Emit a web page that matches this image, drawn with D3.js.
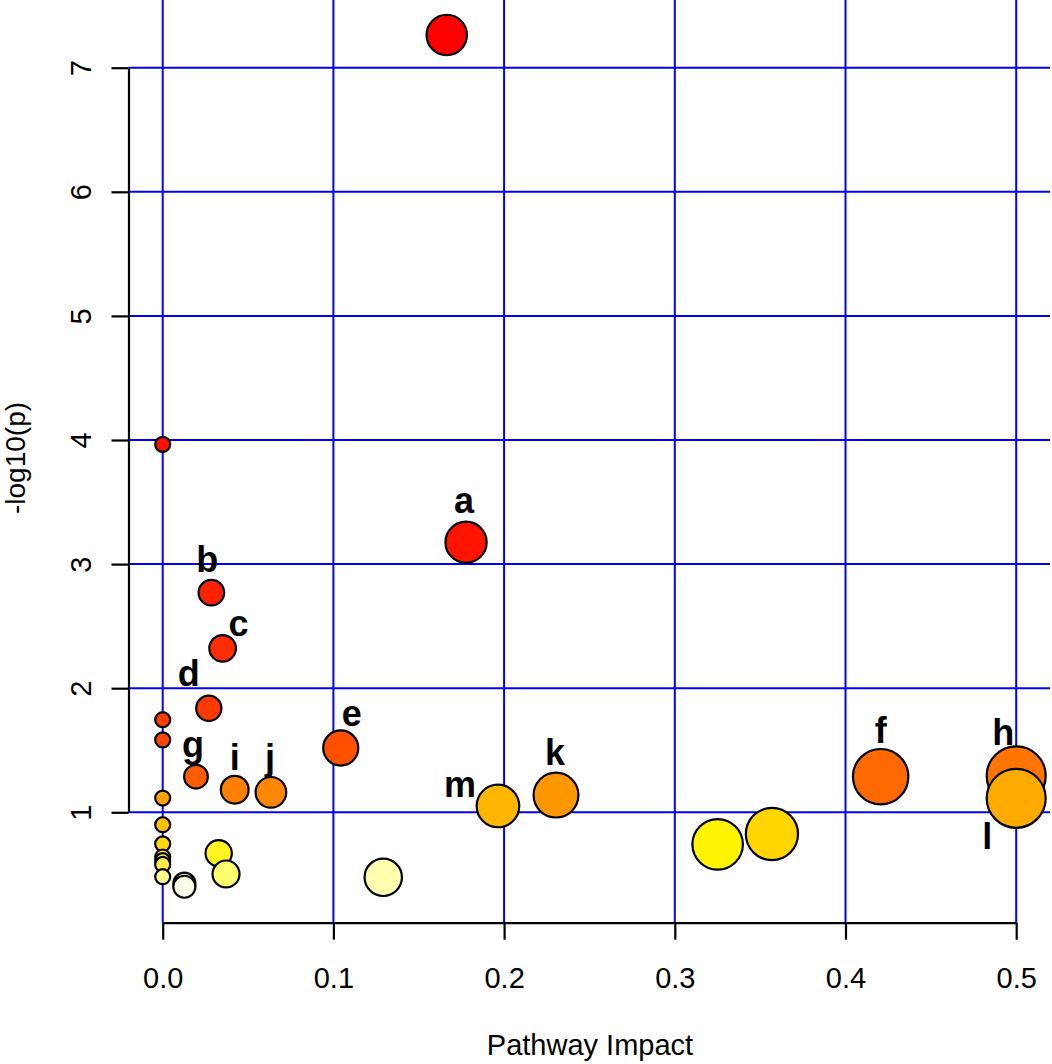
<!DOCTYPE html>
<html>
<head>
<meta charset="utf-8">
<script src="https://cdn.jsdelivr.net/npm/d3@7"></script>
<style>
  body { margin: 0; background: #fff; }
  text { font-family: "Liberation Sans", Arial, sans-serif; }
</style>
</head>
<body>
<script>
// pathway impact (x) and -log10(p) (y)
var impact = [0.1664, 0, 0.1777, 0.0285, 0.0351, 0.027, 0, 0, 0.1043, 0.5, 0.0195, 0.4206,
              0.0422, 0.0634, 0.2304, 0, 0.5, 0.1964, 0, 0.3569, 0.3251, 0, 0.0328,
              0, 0, 0, 0.0371, 0, 0.1292, 0.0127, 0.0127]
var logp   = [7.264, 3.965, 3.176, 2.770, 2.321, 1.838, 1.746, 1.583, 1.518, 1.293, 1.287, 1.287,
              1.182, 1.161, 1.139, 1.115, 1.113, 1.051, 0.900, 0.825, 0.742, 0.745, 0.670,
              0.640, 0.610, 0.580, 0.503, 0.481, 0.476, 0.425, 0.400]
var fills  = ["#FF0000", "#FF1100", "#FF1400", "#FF2200", "#FF2D00", "#FF3A00", "#FF3E00", "#FF4600",
              "#FF5000", "#FF7500", "#FF5C00", "#FF6A00", "#FF8000", "#FF8800", "#FF9800", "#FFA200",
              "#FFAA00", "#FFB600", "#FFC000", "#FFD600", "#FFF500", "#FFD810", "#FFF320",
              "#FFE428", "#FFE838", "#FFEE48", "#FFFF70", "#FFFF90", "#FFFFB0", "#FFFFD8", "#FFFFEE"]
var labels = ["", "", "a", "b", "c", "d", "", "", "e", "h", "g", "f",
              "i", "j", "k", "", "l", "m", "", "", "", "", "",
              "", "", "", "", "", "", "", ""]

var xTicks = [0, 0.1, 0.2, 0.3, 0.4, 0.5]
var yTicks = [1, 2, 3, 4, 5, 6, 7]

// where each letter sits relative to its bubble (px)
var labelShift = {
  a: [-2, -29], b: [-4, -21], c: [16, -12], d: [-20, -22], e: [11, -22],
  f: [0, -34], g: [-3, -20], h: [-13, -31], i: [0, -20], j: [-1, -22],
  k: [-1, -30], l: [-29, 51], m: [-38, -9]
}

var W = 1052, H = 1064
var plotL = 128.5, plotR = 1050, plotT = 0, plotB = 922.7

var x = d3.scaleLinear().domain([0, 0.5]).range([162.7, 1016.2])
var y = d3.scaleLinear().domain([1, 7]).range([812.3, 67.7])
var r = d3.scaleSqrt().domain([0, 0.5]).range([7.5, 29.5])

var svg = d3.select("body").append("svg")
  .attr("width", W)
  .attr("height", H)

// grid
svg.append("g").selectAll("line.v")
  .data(xTicks).enter().append("line")
  .attr("x1", d => x(d)).attr("x2", d => x(d))
  .attr("y1", plotT).attr("y2", plotB)
  .attr("stroke", "#0000FF").attr("stroke-width", 2)

svg.append("g").selectAll("line.h")
  .data(yTicks).enter().append("line")
  .attr("x1", plotL).attr("x2", plotR)
  .attr("y1", d => y(d)).attr("y2", d => y(d))
  .attr("stroke", "#0000FF").attr("stroke-width", 2)

// axes
var xAxis = svg.append("g")
  .attr("transform", "translate(0," + plotB + ")")
  .call(d3.axisBottom(x).tickValues(xTicks).tickFormat(d3.format(".1f")).tickSize(17).tickSizeOuter(0))
xAxis.selectAll("path, line").attr("stroke", "#000").attr("stroke-width", 2.2)
xAxis.selectAll("text")
  .attr("y", 65).attr("dy", 0)
  .attr("fill", "#000")
  .style("font-size", "29px")
  .style("font-family", "Liberation Sans, Arial, sans-serif")

var yAxis = svg.append("g")
  .attr("transform", "translate(" + plotL + ",0)")
  .call(d3.axisLeft(y).tickValues(yTicks).tickFormat(d3.format("d")).tickSize(17).tickSizeOuter(0))
yAxis.selectAll("path, line").attr("stroke", "#000").attr("stroke-width", 2.2)
yAxis.selectAll("text")
  .attr("x", 0).attr("y", -38).attr("dy", 0)
  .attr("text-anchor", "middle")
  .attr("transform", "rotate(-90)")
  .attr("fill", "#000")
  .style("font-size", "29px")
  .style("font-family", "Liberation Sans, Arial, sans-serif")

// axis titles
svg.append("text")
  .attr("x", 590).attr("y", 1055)
  .attr("text-anchor", "middle")
  .style("font-size", "29px")
  .text("Pathway Impact")

svg.append("text")
  .attr("transform", "translate(25,458) rotate(-90)")
  .attr("text-anchor", "middle")
  .style("font-size", "28px")
  .text("-log10(p)")

// bubbles
var pts = impact.map((v, i) => ({ ix: v, lp: logp[i], fill: fills[i], lab: labels[i] }))

svg.append("g").selectAll("circle")
  .data(pts).enter().append("circle")
  .attr("cx", d => x(d.ix))
  .attr("cy", d => y(d.lp))
  .attr("r", d => r(d.ix))
  .attr("fill", d => d.fill)
  .attr("stroke", "#000")
  .attr("stroke-width", 2.2)

svg.append("g").selectAll("text")
  .data(pts.filter(d => d.lab !== "")).enter().append("text")
  .attr("x", d => x(d.ix) + labelShift[d.lab][0])
  .attr("y", d => y(d.lp) + labelShift[d.lab][1])
  .attr("text-anchor", "middle")
  .style("font-size", "36px")
  .style("font-weight", "bold")
  .text(d => d.lab)
</script>
</body>
</html>
